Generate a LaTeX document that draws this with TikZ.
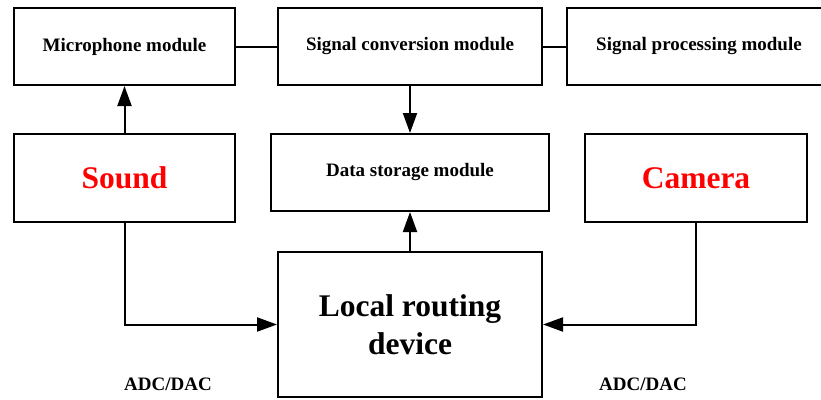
\documentclass[tikz,border=0pt]{standalone}
\usepackage{fontspec}
\setmainfont{Liberation Serif}
\usetikzlibrary{arrows.meta,positioning}

\tikzset{
  box/.style={draw, line width=2pt, inner sep=0pt, align=center},
  small/.style={font=\bfseries\fontsize{19}{21}\selectfont},
  big/.style={font=\bfseries\fontsize{31.5}{38}\selectfont},
  link/.style={line width=2pt},
  arr/.style={link, -{Triangle[length=20pt,width=14pt]}},
}

\begin{document}
\begin{tikzpicture}[x=1pt,y=-1pt]
        \useasboundingbox (0,0) rectangle (821,399);
        % Top row
        \node[box, small, minimum width=221pt, minimum height=77pt] (mic) at (124.5,46.5) {Microphone module};
        \node[box, small, minimum width=264pt, minimum height=77pt] (conv) at (410,46.5) {Signal conversion module};
        \node[box, small, minimum width=264pt, minimum height=77pt] (proc) at (699,46.5) {Signal processing module};
        % Middle row
        \node[box, big, text=red, minimum width=221pt, minimum height=88pt] (sound) at (124.5,178) {Sound};
        \node[box, small, minimum width=278pt, minimum height=77pt] (store) at (410,172.5) {Data storage module};
        \node[box, big, text=red, minimum width=222pt, minimum height=88pt] (camera) at (696,178) {Camera};
        % Bottom
        \node[box, big, minimum width=264pt, minimum height=145pt] (local) at (410,324.5) {Local routing\\device};
        \node[small] (adc1) at (168,384) {ADC/DAC};
        \node[small] (adc2) at (643,384) {ADC/DAC};
        % Connections
        \draw[link] (mic) -- (conv);
        \draw[link] (conv) -- (proc);
        \draw[arr] (sound.north) -- (mic.south);
        \draw[arr] (conv.south) -- (store.north);
        \draw[arr] (local.north) -- (store.south);
        \draw[arr] (sound.south) |- (local.west);
        \draw[arr] (camera.south) |- (local.east);
    \end{tikzpicture}
\end{document}
